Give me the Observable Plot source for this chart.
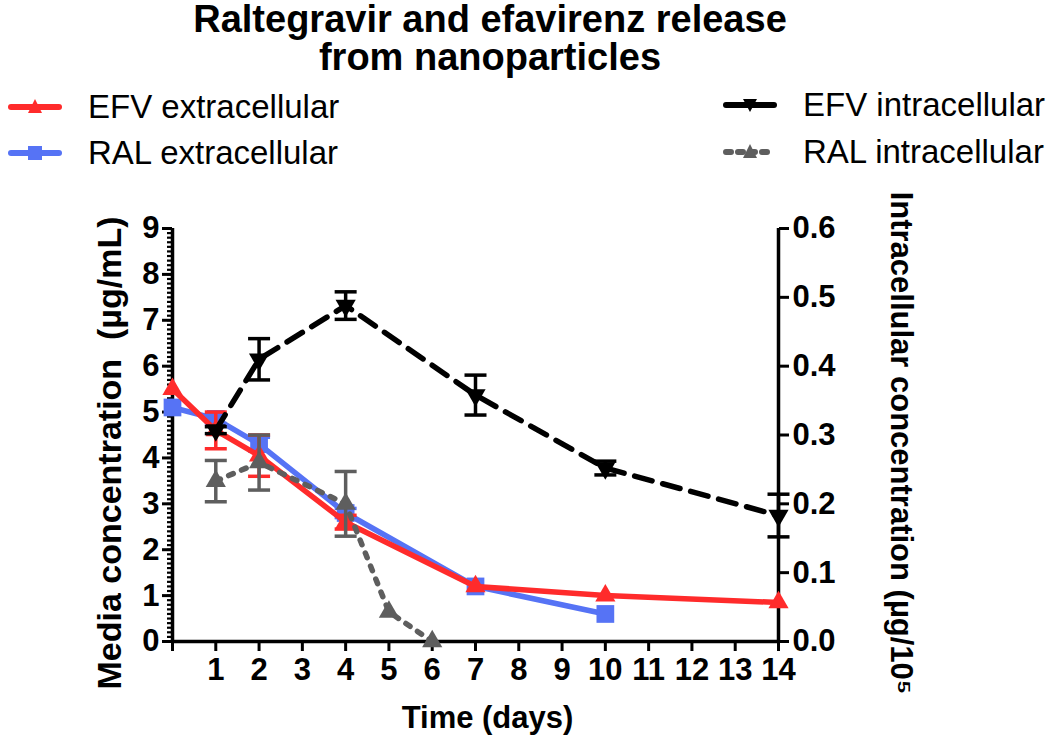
<!DOCTYPE html>
<html>
<head>
<meta charset="utf-8">
<script src="https://cdn.jsdelivr.net/npm/d3@7"></script>
<script src="https://cdn.jsdelivr.net/npm/@observablehq/plot@0.6"></script>
<style>
  html, body { margin: 0; padding: 0; background: #fff; }
  #wrap { position: relative; width: 1050px; font-family: "Liberation Sans", Arial, sans-serif; color: #000; }
  #head { position: relative; height: 190px; }
  #title { position: absolute; left: 0; top: 0; width: 980px; text-align: center; font-weight: bold; font-size: 38px; line-height: 38px; }
  .leg { position: absolute; display: flex; align-items: center; font-size: 33px; white-space: nowrap; }
  .leg svg { margin-right: 24px; }
</style>
</head>
<body>
<div id="wrap">
  <div id="head">
    <div id="title">Raltegravir and efavirenz release<br>from nanoparticles</div>
    <div id="legend"></div>
  </div>
  <div id="chart"></div>
</div>
<script>
// ---- data (x in days; extracellular in µg/mL; intracellular in µg/10^5 cells) ----
const title = "Raltegravir and efavirenz release from nanoparticles";
const xTicks = [0, 1, 2, 3, 4, 5, 6, 7, 8, 9, 10, 11, 12, 13, 14];
const leftTicks = [0, 1, 2, 3, 4, 5, 6, 7, 8, 9];
const rightTicks = [0, 0.1, 0.2, 0.3, 0.4, 0.5, 0.6];

const efvExtDays = [0, 1, 2, 4, 7, 10, 14];
const efvExtMean = [5.5, 4.6, 4.05, 2.6, 1.2, 1.0, 0.85];
const efvExtErr  = [0, 0.4, 0.45, 0.15, 0, 0, 0];

const ralExtDays = [0, 1, 2, 4, 7, 10];
const ralExtMean = [5.1, 4.85, 4.3, 2.8, 1.2, 0.6];
const ralExtErr  = [0, 0.1, 0.15, 0.1, 0, 0];

const efvIntDays = [1, 2, 4, 7, 10, 14];
const efvIntMean = [0.307, 0.41, 0.488, 0.358, 0.252, 0.183];
const efvIntErr  = [0.005, 0.03, 0.02, 0.029, 0.01, 0.031];

const ralIntDays = [1, 2, 4, 5, 6];
const ralIntMean = [0.233, 0.26, 0.2, 0.043, 0];
const ralIntErr  = [0.03, 0.04, 0.047, 0, 0];

const seriesNames = ["EFV extracellular", "RAL extracellular", "EFV intracellular", "RAL intracellular"];
const leftLabel = "Media concentration  (µg/mL)";
const rightLabel = "Intracellular concentration (µg/10⁵";
const xLabel = "Time (days)";

// ---- helpers ----
const K = 9 / 0.6; // right axis (0–0.6) mapped onto left axis (0–9)
function rows(days, mean, err, k = 1) {
  return days.map((d, i) => ({x: d, y: mean[i] * k, lo: (mean[i] - err[i]) * k, hi: (mean[i] + err[i]) * k, e: err[i]}));
}
const efvExt = rows(efvExtDays, efvExtMean, efvExtErr);
const ralExt = rows(ralExtDays, ralExtMean, ralExtErr);
const efvInt = rows(efvIntDays, efvIntMean, efvIntErr, K);
const ralInt = rows(ralIntDays, ralIntMean, ralIntErr, K);

const RED = "#ff2b2b", BLUE = "#5673f5", BLACK = "#000", GRAY = "#5e5e5e";

const capSymbol = {draw(ctx, size) { const r = Math.sqrt(size / Math.PI); ctx.moveTo(-r, 0); ctx.lineTo(r, 0); }};
const downTriangle = {draw(ctx, size) {
  const s = Math.sqrt(size / (Math.sqrt(3) / 4)); const h = s * Math.sqrt(3) / 2;
  ctx.moveTo(-s / 2, -h / 3); ctx.lineTo(s / 2, -h / 3); ctx.lineTo(0, 2 * h / 3); ctx.closePath();
}};

function errMarks(data, color) {
  const d = data.filter(r => r.e > 0);
  const caps = d.flatMap(r => [{x: r.x, y: r.lo}, {x: r.x, y: r.hi}]);
  return [
    Plot.ruleX(d, {x: "x", y1: "lo", y2: "hi", stroke: color, strokeWidth: 3.5}),
    Plot.dot(caps, {x: "x", y: "y", symbol: capSymbol, r: 11, stroke: color, strokeWidth: 3.5, fill: "none"})
  ];
}

const chart = Plot.plot({
  width: 1050,
  height: 548,
  marginTop: 38,
  marginBottom: 97,
  marginLeft: 172,
  marginRight: 272,
  style: {fontFamily: "'Liberation Sans', Arial, sans-serif", fontSize: "31px", fontWeight: "bold", color: "#000", background: "#fff", overflow: "visible"},
  x: {domain: [0, 14]},
  y: {domain: [0, 9]},
  marks: [
    // axes
    Plot.axisY(d3.range(0, 90.5, 1).map(v => v / 10), {anchor: "left", tickSize: 5, text: null, strokeWidth: 2.2, label: null}),
    Plot.axisY(leftTicks, {anchor: "left", tickSize: 10, tickPadding: 3, strokeWidth: 3, label: null}),
    Plot.axisY(rightTicks.map(v => v * K), {anchor: "right", tickSize: 10, tickPadding: 4, strokeWidth: 3, label: null, tickFormat: d => (d / K).toFixed(1)}),
    Plot.axisX(xTicks, {anchor: "bottom", tickSize: 10, tickPadding: 6, strokeWidth: 3, label: null, tickFormat: d => d === 0 ? "" : d}),
    Plot.ruleX([0, 14], {strokeWidth: 3.5}),
    Plot.ruleY([0], {strokeWidth: 3.5}),
    // axis titles
    Plot.text([leftLabel], {frameAnchor: "left", textAnchor: "middle", rotate: -90, dx: -62, dy: 18, lineAnchor: "middle", fontSize: 34, fontWeight: "bold"}),
    Plot.text([rightLabel], {frameAnchor: "right", textAnchor: "middle", rotate: 90, dx: 122, dy: 8, lineAnchor: "middle", fontSize: 31, fontWeight: "bold"}),
    Plot.text([xLabel], {frameAnchor: "bottom", textAnchor: "middle", dx: 12, dy: 77, lineAnchor: "middle", fontSize: 31, fontWeight: "bold"}),
    // RAL extracellular
    ...errMarks(ralExt, BLUE),
    Plot.line(ralExt, {x: "x", y: "y", stroke: BLUE, strokeWidth: 5.5}),
    Plot.dot(ralExt, {x: "x", y: "y", symbol: "square", r: 10, fill: BLUE}),
    // EFV extracellular
    ...errMarks(efvExt, RED),
    Plot.line(efvExt, {x: "x", y: "y", stroke: RED, strokeWidth: 5.5}),
    Plot.dot(efvExt, {x: "x", y: "y", symbol: "triangle", r: 7.5, fill: RED}),
    // RAL intracellular
    ...errMarks(ralInt, GRAY),
    Plot.line(ralInt, {x: "x", y: "y", stroke: GRAY, strokeWidth: 5.5, strokeDasharray: "5,9"}),
    Plot.dot(ralInt, {x: "x", y: "y", symbol: "triangle", r: 7.5, fill: GRAY}),
    // EFV intracellular
    ...errMarks(efvInt, BLACK),
    Plot.line(efvInt, {x: "x", y: "y", stroke: BLACK, strokeWidth: 5.5, strokeDasharray: "18,11"}),
    Plot.dot(efvInt, {x: "x", y: "y", symbol: downTriangle, r: 7.5, fill: BLACK})
  ]
});
document.getElementById("chart").appendChild(chart);

// ---- legend ----
const legendItems = [
  {name: seriesNames[0], color: RED, dash: null, marker: "tri", left: 8, top: 88},
  {name: seriesNames[1], color: BLUE, dash: null, marker: "sq", left: 8, top: 134},
  {name: seriesNames[2], color: BLACK, dash: null, marker: "down", left: 723, top: 86},
  {name: seriesNames[3], color: GRAY, dash: "5,7", marker: "tri", left: 723, top: 133}
];
const legend = document.getElementById("legend");
for (const it of legendItems) {
  const div = document.createElement("div");
  div.className = "leg";
  div.style.left = it.left + "px";
  div.style.top = it.top + "px";
  let marker = "";
  if (it.marker === "tri") marker = `<path d="M27,7 L34,21 L20,21 Z" fill="${it.color}"/>`;
  if (it.marker === "down") marker = `<path d="M20,9 L34,9 L27,22 Z" fill="${it.color}"/>`;
  if (it.marker === "sq") marker = `<rect x="20" y="8" width="14" height="14" fill="${it.color}"/>`;
  div.innerHTML = `<svg width="56" height="30"><line x1="3" y1="15" x2="51" y2="15" stroke="${it.color}" stroke-width="6" stroke-linecap="round" ${it.dash ? `stroke-dasharray="${it.dash}"` : ""}/>${marker}</svg><span>${it.name}</span>`;
  legend.appendChild(div);
}
</script>
</body>
</html>
